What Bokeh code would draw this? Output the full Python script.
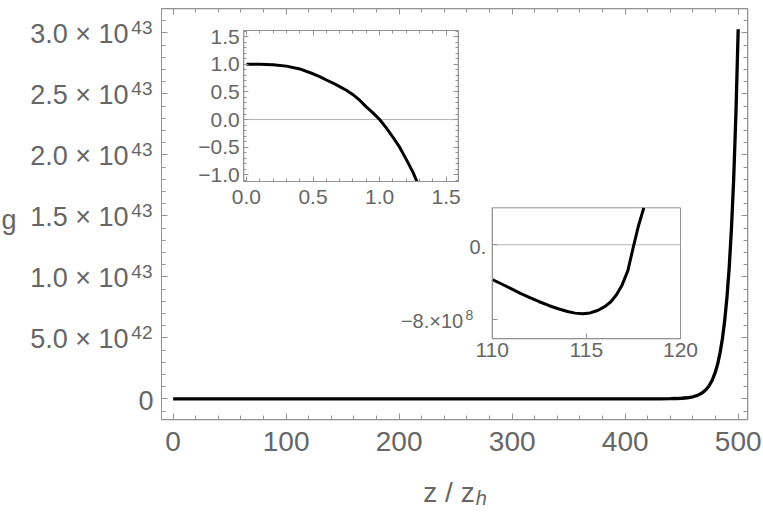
from bokeh.plotting import figure
from bokeh.models import (Range1d, LinearAxis, FixedTicker, CustomJSTickFormatter,
                          ColumnDataSource, LabelSet, Label)
from bokeh.core.properties import value
from bokeh.embed import file_html
from bokeh.resources import INLINE

# ---------------- data ----------------
z_main = [0, 100, 200, 300, 400, 420, 430, 440, 445, 450, 455, 460, 464, 468, 471,
          474, 477, 480, 482, 484, 486, 488, 490, 492, 494, 496, 498, 500]
g_main = [0, 0, 0, 0, 0, 1.0e39, 3.0e39, 1.2e40, 2.4e40, 4.6e40, 8.7e40, 1.67e41,
          2.8e41, 4.7e41, 7.0e41, 1.03e42, 1.52e42, 2.25e42, 2.92e42, 3.79e42,
          4.91e42, 6.37e42, 8.26e42, 1.07e43, 1.39e43, 1.80e43, 2.34e43, 3.03e43]

main_xticks = [0, 100, 200, 300, 400, 500]
main_yticks = [0, 5e42, 1e43, 1.5e43, 2e43, 2.5e43, 3e43]
main_ylabel_base = ["0", "5.0 × 10", "1.0 × 10", "1.5 × 10", "2.0 × 10", "2.5 × 10", "3.0 × 10"]
main_ylabel_sup = ["", "42", "43", "43", "43", "43", "43"]
x_title = "z / z"
x_title_sub = "h"
y_title = "g"

in1_x = [0.0, 0.1, 0.2, 0.3, 0.4, 0.5, 0.55, 0.6, 0.65, 0.7, 0.75, 0.8, 0.85, 0.9, 0.95,
         1.0, 1.05, 1.1, 1.15, 1.2, 1.25, 1.28]
in1_y = [1.0, 0.998, 0.99, 0.966, 0.915, 0.828, 0.775, 0.715, 0.66, 0.595, 0.53, 0.45,
         0.35, 0.23, 0.12, 0.0, -0.15, -0.32, -0.5, -0.72, -0.95, -1.12]
in1_xticks = [0.0, 0.5, 1.0, 1.5]
in1_xlabels = ["0.0", "0.5", "1.0", "1.5"]
in1_yticks = [-1.0, -0.5, 0.0, 0.5, 1.0, 1.5]
in1_ylabels = ["−1.0", "−0.5", "0.0", "0.5", "1.0", "1.5"]

in2_x = [110.0, 110.5, 111.0, 111.5, 112.0, 112.5, 113.0, 113.5, 114.0, 114.4, 114.8,
         115.2, 115.6, 116.0, 116.3, 116.6, 116.9, 117.2, 117.5, 117.75, 118.05]
in2_y = [-3.72e8, -4.2e8, -4.7e8, -5.2e8, -5.65e8, -6.1e8, -6.5e8, -6.85e8, -7.15e8,
         -7.32e8, -7.39e8, -7.3e8, -7.04e8, -6.6e8, -6.1e8, -5.35e8, -4.3e8, -2.8e8,
         -0.2e8, 1.9e8, 3.96e8]
in2_xticks = [110, 115, 120]
in2_yticks = [-8e8, 0]
in2_ylabel_base = ["−8.×10", "0."]
in2_ylabel_sup = ["8", ""]

# ranges
MAIN_X = (-10.3, 508.5)
MAIN_Y = (-1.72e42, 3.197e43)
IN1_X = (-0.02, 1.59)
IN1_Y = (-1.12, 1.61)
IN2_X = (110.0, 120.0)
IN2_Y = (-10.07e8, 3.96e8)

# ---------------- layout / style ----------------
W, H = 763, 515
# boxes as fractions of the canvas: x0, x1, y0 (from bottom), y1
MAIN_BOX = (161 / W, 747.3 / W, (H - 419.3) / H, (H - 8.3) / H)
IN1_BOX = (243.3 / W, 457.7 / W, (H - 181) / H, (H - 30) / H)
IN2_BOX = (491.7 / W, 680 / W, (H - 338.3) / H, (H - 207.3) / H)
FONT = "Liberation Sans"
LBL = "#666666"
FRAME = "#939393"
ZERO = "#b4b4b4"


def ext_range(lo, hi, f0, f1):
    span = (hi - lo) / (f1 - f0)
    start = lo - f0 * span
    return Range1d(start=start, end=start + span)


p = figure(width=W, height=H, x_range=Range1d(0, 1), y_range=Range1d(0, 1),
           output_backend="svg", toolbar_location=None,
           x_axis_location=None, y_axis_location=None, min_border=0)
p.xgrid.visible = False
p.ygrid.visible = False
p.outline_line_color = None
p.background_fill_color = "white"
p.border_fill_color = "white"

p.extra_x_ranges = {"mx": ext_range(*MAIN_X, MAIN_BOX[0], MAIN_BOX[1]),
                    "i1x": ext_range(*IN1_X, IN1_BOX[0], IN1_BOX[1]),
                    "i2x": ext_range(*IN2_X, IN2_BOX[0], IN2_BOX[1])}
p.extra_y_ranges = {"my": ext_range(*MAIN_Y, MAIN_BOX[2], MAIN_BOX[3]),
                    "i1y": ext_range(*IN1_Y, IN1_BOX[2], IN1_BOX[3]),
                    "i2y": ext_range(*IN2_Y, IN2_BOX[2], IN2_BOX[3])}


def style_axis(ax, tick_in, minor_in, fsize, standoff, labels=True):
    ax.axis_line_color = FRAME
    ax.major_tick_line_color = FRAME
    ax.minor_tick_line_color = FRAME
    ax.major_tick_in = tick_in
    ax.major_tick_out = 0
    ax.minor_tick_in = minor_in
    ax.minor_tick_out = 0
    ax.major_label_text_font = FONT
    ax.major_label_text_font_size = fsize
    ax.major_label_text_color = LBL
    ax.major_label_standoff = standoff
    if not labels:
        ax.formatter = CustomJSTickFormatter(code="return ''")


def box_axis(side, xr, yr, loc, bounds, ticks, minor, labels, overrides, standoff,
             tick_in, minor_in, fsize):
    ax = LinearAxis(x_range_name=xr, y_range_name=yr, fixed_location=loc, bounds=bounds,
                    ticker=FixedTicker(ticks=ticks, minor_ticks=minor))
    style_axis(ax, tick_in, minor_in, fsize, standoff, labels=labels)
    if overrides:
        ax.major_label_overrides = overrides
    p.add_layout(ax, side)


def box(xr, yr, bx, by):
    p.quad(left=[bx[0]], right=[bx[1]], bottom=[by[0]], top=[by[1]],
           x_range_name=xr, y_range_name=yr, fill_color="white", line_color=FRAME)


# ---------------- main chart ----------------
box("mx", "my", MAIN_X, MAIN_Y)
main_xminor = list(range(0, 501, 20))
main_yminor = [k * 1e42 for k in range(-1, 32)]
box_axis("below", "mx", "my", MAIN_Y[0], MAIN_X, main_xticks, main_xminor, True, None, 12, 6, 4, "28px")
box_axis("above", "mx", "my", MAIN_Y[1], MAIN_X, main_xticks, main_xminor, False, None, 0, 6, 4, "10px")
box_axis("left", "mx", "my", MAIN_X[0], MAIN_Y, main_yticks, main_yminor, False, None, 0, 6, 4, "10px")
box_axis("right", "mx", "my", MAIN_X[1], MAIN_Y, main_yticks, main_yminor, False, None, 0, 6, 4, "10px")

p.line(z_main, g_main, x_range_name="mx", y_range_name="my", line_color="black", line_width=3.3)

has_sup = [s != "" for s in main_ylabel_sup]
ysrc = ColumnDataSource(dict(
    x=[MAIN_X[0]] * len(main_yticks), y=main_yticks,
    base=main_ylabel_base, sup=main_ylabel_sup,
    off=[-33 if h else -8 for h in has_sup]))
p.add_layout(LabelSet(x="x", y="y", text="base", source=ysrc, x_offset="off", y_offset=-1.5,
                      x_range_name="mx", y_range_name="my",
                      text_align="right", text_baseline="middle",
                      text_font=value(FONT), text_font_size=value("27px"), text_color=LBL))
p.add_layout(LabelSet(x="x", y="y", text="sup", source=ysrc, x_offset=-9, y_offset=-1,
                      x_range_name="mx", y_range_name="my",
                      text_align="right", text_baseline="alphabetic",
                      text_font=value(FONT), text_font_size=value("19px"), text_color=LBL))

xmid = (MAIN_X[0] + MAIN_X[1]) / 2
ymid = (MAIN_Y[0] + MAIN_Y[1]) / 2
p.add_layout(Label(x=MAIN_X[0], y=ymid, text=y_title, x_offset=-160, y_offset=-6,
                   x_range_name="mx", y_range_name="my",
                   text_align="left", text_baseline="alphabetic",
                   text_font=FONT, text_font_size="27px", text_color=LBL))
p.add_layout(Label(x=xmid, y=MAIN_Y[0], text=x_title, x_offset=20, y_offset=-73,
                   x_range_name="mx", y_range_name="my",
                   text_align="right", text_baseline="alphabetic",
                   text_font=FONT, text_font_size="28px", text_color=LBL))
p.add_layout(Label(x=xmid, y=MAIN_Y[0], text=x_title_sub, x_offset=21, y_offset=-78,
                   x_range_name="mx", y_range_name="my",
                   text_align="left", text_baseline="alphabetic", text_font_style="italic",
                   text_font=FONT, text_font_size="20px", text_color=LBL))

# ---------------- inset 1 ----------------
box("i1x", "i1y", IN1_X, IN1_Y)
p.segment(x0=[IN1_X[0]], x1=[IN1_X[1]], y0=[0], y1=[0], x_range_name="i1x", y_range_name="i1y",
          line_color=ZERO, line_width=1)
p.line(in1_x, in1_y, x_range_name="i1x", y_range_name="i1y", line_color="black", line_width=3)

in1_xminor = [i / 10 for i in range(0, 16)]
in1_yminor = [i / 10 for i in range(-11, 17)]
box_axis("below", "i1x", "i1y", IN1_Y[0], IN1_X, in1_xticks, in1_xminor, True,
         dict(zip(in1_xticks, in1_xlabels)), 8, 5, 3, "21px")
box_axis("above", "i1x", "i1y", IN1_Y[1], IN1_X, in1_xticks, in1_xminor, False, None, 0, 5, 3, "10px")
box_axis("left", "i1x", "i1y", IN1_X[0], IN1_Y, in1_yticks, in1_yminor, True,
         dict(zip(in1_yticks, in1_ylabels)), 4, 5, 3, "21px")
box_axis("right", "i1x", "i1y", IN1_X[1], IN1_Y, in1_yticks, in1_yminor, False, None, 0, 5, 3, "10px")

# ---------------- inset 2 ----------------
box("i2x", "i2y", IN2_X, IN2_Y)
p.segment(x0=[IN2_X[0]], x1=[IN2_X[1]], y0=[0], y1=[0], x_range_name="i2x", y_range_name="i2y",
          line_color=ZERO, line_width=1)
p.line(in2_x, in2_y, x_range_name="i2x", y_range_name="i2y", line_color="black", line_width=3)

box_axis("below", "i2x", "i2y", IN2_Y[0], IN2_X, in2_xticks, [], True, None, 4, 5, 3, "21px")
box_axis("left", "i2x", "i2y", IN2_X[0], IN2_Y, in2_yticks, [], False, None, 0, 5, 3, "10px")

i2_has_sup = [s != "" for s in in2_ylabel_sup]
i2src = ColumnDataSource(dict(
    x=[IN2_X[0]] * len(in2_yticks), y=in2_yticks,
    base=in2_ylabel_base, sup=in2_ylabel_sup,
    off=[-29 if h else -6 for h in i2_has_sup]))
p.add_layout(LabelSet(x="x", y="y", text="base", source=i2src, x_offset="off", y_offset=-2,
                      x_range_name="i2x", y_range_name="i2y",
                      text_align="right", text_baseline="middle",
                      text_font=value(FONT), text_font_size=value("20px"), text_color=LBL))
p.add_layout(LabelSet(x="x", y="y", text="sup", source=i2src, x_offset=-19, y_offset=-1,
                      x_range_name="i2x", y_range_name="i2y",
                      text_align="right", text_baseline="alphabetic",
                      text_font=value(FONT), text_font_size=value("14px"), text_color=LBL))

open("out.html", "w").write(file_html(p, INLINE))
